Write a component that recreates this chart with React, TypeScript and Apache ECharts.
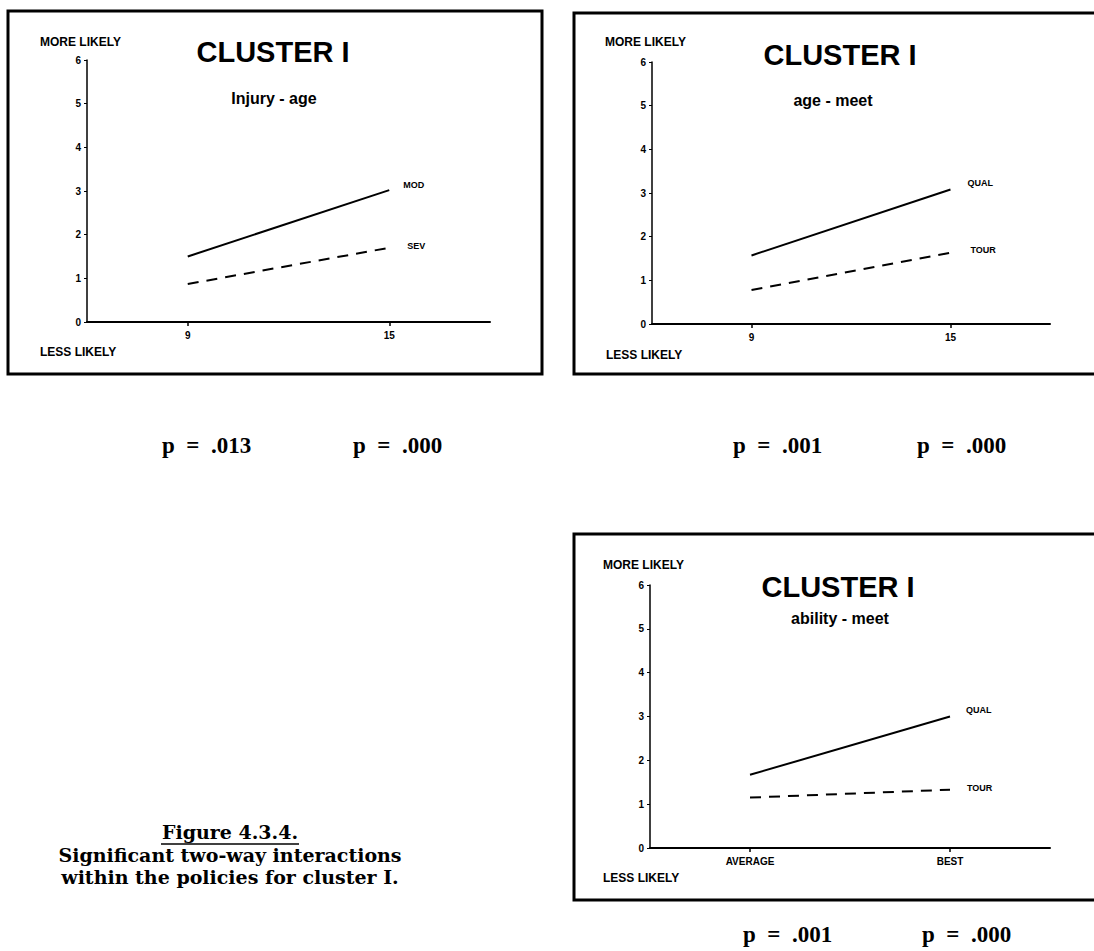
import React, { useEffect, useRef } from "react";
import * as echarts from "echarts";

// ---- data ----
const yTicks = [0, 1, 2, 3, 4, 5, 6];

const p1Categories = ["9", "15"];
const p1Mod = [1.5, 3.02];
const p1Sev = [0.87, 1.7];

const p2Categories = ["9", "15"];
const p2Qual = [1.57, 3.08];
const p2Tour = [0.78, 1.63];

const p3Categories = ["AVERAGE", "BEST"];
const p3Qual = [1.67, 3.0];
const p3Tour = [1.15, 1.33];

const panelTitles = ["CLUSTER I", "CLUSTER I", "CLUSTER I"];
const panelSubtitles = ["Injury - age", "age - meet", "ability - meet"];
const pValues = [
  ["p = .013", "p = .000"],
  ["p = .001", "p = .000"],
  ["p = .001", "p = .000"],
];
const captionLines = [
  "Figure 4.3.4.",
  "Significant two-way interactions",
  "within the policies for cluster I.",
];

const SANS = "'Liberation Sans', Arial, Helvetica, sans-serif";
const SERIF = "'Liberation Serif', 'Times New Roman', serif";
const CAPTION_SERIF = "'DejaVu Serif', serif";

const nb = (s: string) => s.replace(/ /g, "\u00a0\u00a0");

export default function App() {
  const ref = useRef<HTMLDivElement>(null);

  useEffect(() => {
    if (!ref.current) return;
    const chart = echarts.init(ref.current, null, { renderer: "svg" });

    const grids = [
      { left: 87, top: 60, width: 403, height: 262 },
      { left: 652, top: 62, width: 398, height: 262 },
      { left: 650, top: 585, width: 400, height: 263 },
    ];

    const xCats = [p1Categories, p2Categories, p3Categories];

    const xAxis = xCats.map((cats, i) => ({
      type: "category",
      gridIndex: i,
      data: cats,
      boundaryGap: true,
      axisLine: { show: true, lineStyle: { color: "#000", width: 2 } },
      axisTick: { show: true, alignWithLabel: true, length: 4, lineStyle: { color: "#000", width: 1.5 } },
      axisLabel: {
        color: "#000",
        fontSize: 10,
        fontWeight: "bold",
        fontFamily: SANS,
        margin: 8,
      },
      splitLine: { show: false },
    }));

    const yAxis = [0, 1, 2].map((i) => ({
      type: "value",
      gridIndex: i,
      min: yTicks[0],
      max: yTicks[yTicks.length - 1],
      interval: 1,
      axisLine: { show: true, lineStyle: { color: "#000", width: 1.5 } },
      axisTick: { show: true, length: 3, lineStyle: { color: "#000", width: 1 } },
      axisLabel: {
        color: "#000",
        fontSize: 10,
        fontWeight: "bold",
        fontFamily: SANS,
        margin: 6,
      },
      splitLine: { show: false },
    }));

    const mkSeries = (
      name: string,
      data: number[],
      idx: number,
      dashed: boolean,
      offset: number[]
    ) => ({
      type: "line",
      name,
      xAxisIndex: idx,
      yAxisIndex: idx,
      data,
      symbol: "none",
      silent: true,
      lineStyle: { color: "#000", width: 2, type: dashed ? [11, 8] : "solid" },
      endLabel: {
        show: true,
        formatter: name,
        color: "#000",
        fontSize: 9,
        fontWeight: "bold",
        fontFamily: SANS,
        offset,
      },
    });

    const series = [
      mkSeries("MOD", p1Mod, 0, false, [6, -5]),
      mkSeries("SEV", p1Sev, 0, true, [10, -2]),
      mkSeries("QUAL", p2Qual, 1, false, [9, -7]),
      mkSeries("TOUR", p2Tour, 1, true, [12, -3]),
      mkSeries("QUAL", p3Qual, 2, false, [8, -7]),
      mkSeries("TOUR", p3Tour, 2, true, [9, -2]),
    ];

    const borders = [
      { x: 8, y: 11, width: 534, height: 363 },
      { x: 574, y: 13, width: 540, height: 361 },
      { x: 574, y: 534, width: 540, height: 366 },
    ];

    const smallText = (text: string, x: number, y: number) => ({
      type: "text",
      x,
      y,
      style: {
        text,
        fill: "#000",
        font: `bold 12px ${SANS}`,
        textAlign: "left",
        textVerticalAlign: "middle",
      },
    });

    const centerText = (text: string, x: number, y: number, font: string) => ({
      type: "text",
      x,
      y,
      style: {
        text,
        fill: "#000",
        font,
        textAlign: "center",
        textVerticalAlign: "middle",
      },
    });

    const leftText = (text: string, x: number, y: number, font: string) => ({
      type: "text",
      x,
      y,
      style: {
        text,
        fill: "#000",
        font,
        textAlign: "left",
        textVerticalAlign: "middle",
      },
    });

    const titlePos = [
      [273, 52],
      [840, 55],
      [838, 587],
    ];
    const subPos = [
      [274, 98],
      [833, 100],
      [840, 618],
    ];
    const morePos = [
      [40, 42],
      [605, 42],
      [603, 565],
    ];
    const lessPos = [
      [40, 352],
      [606, 355],
      [603, 878],
    ];
    const pPos = [
      [[162, 445], [353, 445]],
      [[733, 445], [917, 445]],
      [[743, 934], [922, 934]],
    ];

    const graphic: any[] = [];
    borders.forEach((b) =>
      graphic.push({
        type: "rect",
        shape: b,
        silent: true,
        style: { fill: "none", stroke: "#000", lineWidth: 3 },
      })
    );
    for (let i = 0; i < 3; i++) {
      graphic.push(centerText(panelTitles[i], titlePos[i][0], titlePos[i][1], `bold 29px ${SANS}`));
      graphic.push(centerText(panelSubtitles[i], subPos[i][0], subPos[i][1], `bold 16px ${SANS}`));
      graphic.push(smallText("MORE LIKELY", morePos[i][0], morePos[i][1]));
      graphic.push(smallText("LESS LIKELY", lessPos[i][0], lessPos[i][1]));
      for (let j = 0; j < 2; j++) {
        graphic.push(
          leftText(nb(pValues[i][j]), pPos[i][j][0], pPos[i][j][1], `bold 23px ${SERIF}`)
        );
      }
    }
    graphic.push(centerText(captionLines[0], 230, 832, `bold 19px ${CAPTION_SERIF}`));
    graphic.push({
      type: "line",
      shape: { x1: 161, y1: 844, x2: 299, y2: 844 },
      style: { stroke: "#000", lineWidth: 1.5 },
    });
    graphic.push(centerText(captionLines[1], 230, 855, `bold 19px ${CAPTION_SERIF}`));
    graphic.push(centerText(captionLines[2], 230, 877, `bold 19px ${CAPTION_SERIF}`));

    chart.setOption({
      animation: false,
      backgroundColor: "#fff",
      grid: grids,
      xAxis,
      yAxis,
      series,
      graphic,
    });

    return () => chart.dispose();
  }, []);

  return (
    <div
      ref={ref}
      style={{ position: "fixed", left: 0, top: 0, width: 1094, height: 951, background: "#fff" }}
    />
  );
}
